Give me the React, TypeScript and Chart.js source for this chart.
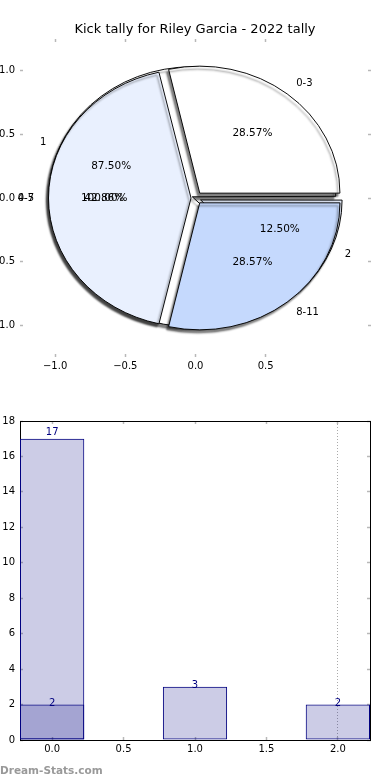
import React, { useEffect, useRef } from 'react';
import { Chart, registerables } from 'chart.js';

Chart.register(...registerables);

// ---------- text ----------
const TITLE = 'Kick tally for Riley Garcia - 2022 tally';
const WATERMARK = 'Dream-Stats.com';

// ---------- pie data (matplotlib order: counter-clockwise from 3 o'clock) ----------
const pieALabels = ['0-3', '4-7', '8-11'];
const pieAValues = [2, 3, 2];
const pieAColors = ['#ffffff', '#e9f0fe', '#c5d9fd'];

const pieBLabels = ['1', '2'];
const pieBValues = [7, 1];
const pieBColors = ['#ffffff', '#e9f0fe'];

const pieCLabels = ['0-5'];
const pieCValues = [1];

const pieXTicks = [-1, -0.5, 0, 0.5];
const pieYTicks = [-1, -0.5, 0, 0.5, 1];

// ---------- bar data ----------
const barBackX = [0];
const barBackValues = [17];
const barFrontX = [0, 1, 2];
const barFrontValues = [2, 3, 2];
const barXTicks = [0, 0.5, 1, 1.5, 2];
const barYTicks = [0, 2, 4, 6, 8, 10, 12, 14, 16, 18];
const barMarkerX = 2;

// ---------- style ----------
const FONT = "'DejaVu Sans', 'Liberation Sans', sans-serif";
const PIE_LIM = 1.25;
const PIE_RADIUS_PX = 140;
const EXPLODE = 0.05;
const LABEL_DIST = 1.1;
const PCT_DIST = 0.6;
const TICK_GRAY = '#b8b8b8';
const NAVY = '#000080';

const fmt1 = (v: number) => (v < 0 ? '\u2212' : '') + Math.abs(v).toFixed(1);

function arcOffsets(values: number[]) {
  const total = values.reduce((a, b) => a + b, 0);
  return values.map((v) => {
    const circ = (2 * Math.PI * v) / total;
    const fix = 1 - Math.sin(Math.min(Math.PI, circ));
    return (4 * EXPLODE * PIE_RADIUS_PX) / (1 + fix);
  });
}

const ellipsePlugin = {
  id: 'ellipseShadow',
  beforeDatasetsDraw(chart: any) {
    const ctx = chart.ctx;
    const xs = chart.scales.x;
    const ys = chart.scales.y;
    const cx = xs.getPixelForValue(0);
    const cy = ys.getPixelForValue(0);
    const rx = xs.getPixelForValue(1) - cx;
    const ry = cy - ys.getPixelForValue(1);
    const arc = chart.getDatasetMeta(0).data[0];
    const ax = arc ? arc.x : cx;
    const ay = arc ? arc.y : cy;
    ctx.save();
    ctx.translate(cx, cy);
    ctx.scale(1, ry / rx);
    ctx.translate(-ax, -ay);
    ctx.shadowColor = 'rgba(0,0,0,0.5)';
    ctx.shadowOffsetX = -2;
    ctx.shadowOffsetY = 3;
    ctx.shadowBlur = 2;
  },
  afterDatasetsDraw(chart: any) {
    chart.ctx.restore();
  },
};

function drawPieTexts(chart: any, labels: string[], values: number[]) {
  const ctx = chart.ctx;
  const xs = chart.scales.x;
  const ys = chart.scales.y;
  const total = values.reduce((a, b) => a + b, 0);
  let start = 0;
  values.forEach((v, i) => {
    const frac = v / total;
    const mid = (start + frac / 2) * 2 * Math.PI;
    start += frac;
    const ex = EXPLODE * Math.cos(mid);
    const ey = EXPLODE * Math.sin(mid);
    const lx = ex + LABEL_DIST * Math.cos(mid);
    const ly = ey + LABEL_DIST * Math.sin(mid);
    ctx.fillStyle = '#000';
    ctx.textBaseline = 'middle';
    ctx.font = `10px ${FONT}`;
    ctx.textAlign = lx > 0 ? 'left' : 'right';
    ctx.fillText(labels[i], xs.getPixelForValue(lx), ys.getPixelForValue(ly));
    const px = ex + PCT_DIST * Math.cos(mid);
    const py = ey + PCT_DIST * Math.sin(mid);
    ctx.textAlign = 'center';
    ctx.font = `10.5px ${FONT}`;
    ctx.fillText((frac * 100).toFixed(2) + '%', xs.getPixelForValue(px), ys.getPixelForValue(py));
  });
}

const pieTextPlugin = {
  id: 'pieTexts',
  afterDraw(chart: any) {
    const ctx = chart.ctx;
    ctx.save();
    drawPieTexts(chart, pieALabels, pieAValues);
    drawPieTexts(chart, pieBLabels, pieBValues);
    drawPieTexts(chart, pieCLabels, pieCValues);
    ctx.restore();
  },
};

function pieScales(visible: boolean) {
  const tickColor = visible ? TICK_GRAY : 'rgba(0,0,0,0)';
  const labelColor = visible ? '#000' : 'rgba(0,0,0,0)';
  const grid = {
    display: true,
    drawOnChartArea: false,
    drawTicks: true,
    tickLength: -3,
    tickWidth: 1.5,
    tickColor,
    color: tickColor,
  };
  const base = { type: 'linear', min: -PIE_LIM, max: PIE_LIM, grid, border: { display: false } };
  const xt = (s: any) => {
    s.ticks = pieXTicks.map((v) => ({ value: v }));
  };
  const yt = (s: any) => {
    s.ticks = pieYTicks.map((v) => ({ value: v }));
  };
  const tickFont = { family: FONT, size: 10 };
  return {
    x: {
      ...base,
      axis: 'x',
      position: 'bottom',
      afterBuildTicks: xt,
      afterFit: (s: any) => {
        s.height = 33;
      },
      ticks: { display: true, autoSkip: false, maxRotation: 0, padding: 6, color: labelColor, font: tickFont, callback: (v: any) => fmt1(Number(v)) },
    },
    x2: {
      ...base,
      axis: 'x',
      position: 'top',
      afterBuildTicks: xt,
      afterFit: (s: any) => {
        s.height = 0;
      },
      ticks: { display: false },
    },
    y: {
      ...base,
      axis: 'y',
      position: 'left',
      afterBuildTicks: yt,
      afterFit: (s: any) => {
        s.width = 20;
      },
      ticks: { display: true, autoSkip: false, padding: 8, color: labelColor, font: tickFont, callback: (v: any) => fmt1(Number(v)) },
    },
    y2: {
      ...base,
      axis: 'y',
      position: 'right',
      afterBuildTicks: yt,
      afterFit: (s: any) => {
        s.width = 19;
      },
      ticks: { display: false },
    },
  };
}

function pieConfig(values: number[], colors: string[], visible: boolean): any {
  const rev = <T,>(a: T[]) => a.slice().reverse();
  return {
    type: 'pie',
    data: {
      labels: rev(visible ? pieALabels : pieBLabels),
      datasets: [
        {
          data: rev(values),
          backgroundColor: rev(colors),
          borderColor: '#000',
          borderWidth: 1,
          offset: rev(arcOffsets(values)),
          radius: PIE_RADIUS_PX,
          rotation: 90,
          clip: false,
        },
      ],
    },
    options: {
      responsive: false,
      animation: false,
      events: [],
      layout: { padding: 0 },
      plugins: {
        legend: { display: false },
        tooltip: { enabled: false },
        title: {
          display: true,
          text: TITLE,
          color: visible ? '#000' : 'rgba(0,0,0,0)',
          font: { family: FONT, size: 13, weight: 'normal', lineHeight: 1.2 },
          padding: { top: 22.2, bottom: 1.2 },
        },
      },
      scales: pieScales(visible),
    },
    plugins: visible ? [ellipsePlugin, pieTextPlugin] : [ellipsePlugin],
  };
}

const barLabelPlugin = {
  id: 'barLabels',
  afterDatasetsDraw(chart: any) {
    const ctx = chart.ctx;
    const ys = chart.scales.y;
    ctx.save();
    ctx.fillStyle = NAVY;
    ctx.font = `10px ${FONT}`;
    ctx.textAlign = 'center';
    ctx.textBaseline = 'middle';
    chart.data.datasets.forEach((ds: any, di: number) => {
      const meta = chart.getDatasetMeta(di);
      meta.data.forEach((el: any, j: number) => {
        const v = ds.data[j].y;
        ctx.fillText(String(v), el.x, ys.getPixelForValue(v * 1.02));
      });
    });
    ctx.restore();
  },
};

function barConfig(): any {
  const barStyle = {
    backgroundColor: 'rgba(0,0,128,0.2)',
    borderColor: NAVY,
    borderWidth: 1,
    borderSkipped: false,
    grouped: false,
    categoryPercentage: 1,
    barPercentage: 0.9,
  };
  const tickFont = { family: FONT, size: 10 };
  const gridBase = {
    display: true,
    offset: false,
    drawOnChartArea: false,
    drawTicks: true,
    tickLength: -3,
    tickWidth: 1.5,
    tickColor: TICK_GRAY,
    color: TICK_GRAY,
  };
  const border = { display: true, color: '#000', width: 1 };
  const xt = (s: any) => {
    s.ticks = barXTicks.map((v) => ({ value: v }));
  };
  const yt = (s: any) => {
    s.ticks = barYTicks.map((v) => ({ value: v }));
  };
  const xBase = { type: 'linear', min: -0.225, max: 2.225, offset: false };
  const yBase = { type: 'linear', min: 0, max: 18, offset: false };
  return {
    type: 'bar',
    data: {
      datasets: [
        { data: barBackX.map((x, i) => ({ x, y: barBackValues[i] })), ...barStyle },
        { data: barFrontX.map((x, i) => ({ x, y: barFrontValues[i] })), ...barStyle },
      ],
    },
    options: {
      responsive: false,
      animation: false,
      events: [],
      layout: { padding: 0 },
      plugins: { legend: { display: false }, tooltip: { enabled: false }, title: { display: false } },
      scales: {
        x: {
          ...xBase,
          axis: 'x',
          position: 'bottom',
          afterBuildTicks: xt,
          afterFit: (s: any) => {
            s.height = 40;
          },
          grid: {
            ...gridBase,
            drawOnChartArea: true,
            lineWidth: 1,
            color: (c: any) => (c.tick && c.tick.value === barMarkerX ? '#aaaaaa' : 'rgba(0,0,0,0)'),
          },
          border: { ...border, dash: [1, 2] },
          ticks: { autoSkip: false, maxRotation: 0, padding: 6, color: '#000', font: tickFont, callback: (v: any) => Number(v).toFixed(1) },
        },
        x2: {
          ...xBase,
          axis: 'x',
          position: 'top',
          afterBuildTicks: xt,
          afterFit: (s: any) => {
            s.height = 31;
          },
          grid: gridBase,
          border,
          ticks: { display: false },
        },
        y: {
          ...yBase,
          axis: 'y',
          position: 'left',
          afterBuildTicks: yt,
          afterFit: (s: any) => {
            s.width = 20;
          },
          grid: gridBase,
          border,
          ticks: { autoSkip: false, padding: 8, color: '#000', font: tickFont, callback: (v: any) => String(v) },
        },
        y2: {
          ...yBase,
          axis: 'y',
          position: 'right',
          afterBuildTicks: yt,
          afterFit: (s: any) => {
            s.width = 20;
          },
          grid: gridBase,
          border,
          ticks: { display: false },
        },
      },
    },
    plugins: [barLabelPlugin],
  };
}

export default function App() {
  const bgRef = useRef<HTMLCanvasElement>(null);
  const pieRef = useRef<HTMLCanvasElement>(null);
  const barRef = useRef<HTMLCanvasElement>(null);

  useEffect(() => {
    const charts: Chart[] = [];
    if (bgRef.current) charts.push(new Chart(bgRef.current, pieConfig(pieBValues, pieBColors, false)));
    if (pieRef.current) charts.push(new Chart(pieRef.current, pieConfig(pieAValues, pieAColors, true)));
    if (barRef.current) charts.push(new Chart(barRef.current, barConfig()));
    return () => charts.forEach((c) => c.destroy());
  }, []);

  return (
    <div style={{ position: 'absolute', left: 0, top: 0, width: 390, height: 780, background: '#fff', overflow: 'hidden' }}>
      <canvas ref={bgRef} width={390} height={390} style={{ position: 'absolute', left: 0, top: 0 }} />
      <canvas ref={pieRef} width={390} height={390} style={{ position: 'absolute', left: 0, top: 0 }} />
      <canvas ref={barRef} width={390} height={390} style={{ position: 'absolute', left: 0, top: 390 }} />
      <div
        style={{
          position: 'absolute',
          left: 0,
          top: 762,
          font: `bold 10.5px ${FONT}`,
          lineHeight: '16px',
          color: '#999',
          whiteSpace: 'nowrap',
        }}
      >
        {WATERMARK}
      </div>
    </div>
  );
}
